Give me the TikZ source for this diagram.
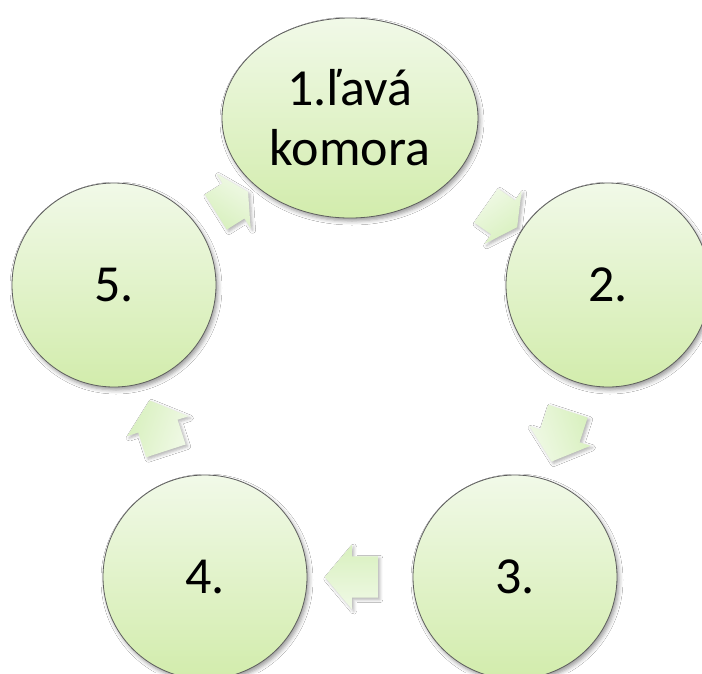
\documentclass[tikz,border=0pt]{standalone}
\usepackage{fontspec}
\setmainfont{Carlito}
\usetikzlibrary{calc,shapes.geometric,shapes.arrows,shadows.blur}

\definecolor{limetop}{HTML}{F1F9E8}
\definecolor{limebottom}{HTML}{D2ECAC}
\definecolor{arrowtop}{HTML}{F0F9E6}
\definecolor{arrowbottom}{HTML}{D8F0BE}
\definecolor{rimgray}{HTML}{5E5E5E}

\begin{document}
\begin{tikzpicture}[x=1pt,y=-1pt,
stage/.style={circle,draw=rimgray,line width=0.8pt,minimum size=204pt,inner sep=0pt,
  top color=limetop,bottom color=limebottom,font=\fontsize{52}{60}\selectfont,
  blur shadow={shadow xshift=2pt,shadow yshift=-3pt,shadow blur radius=4pt,shadow opacity=40}},
chamber/.style={stage,ellipse,minimum width=256pt,minimum height=200pt,align=center},
cyclearrow/.style={single arrow,inner xsep=0pt,inner ysep=20.5pt,single arrow head extend=11.5pt,
  rotate=#1,top color=arrowtop,bottom color=arrowbottom,shading angle=-#1,
  blur shadow={shadow xshift=2pt,shadow yshift=-2pt,shadow blur radius=3pt,shadow opacity=30}},
longarrow/.style={cyclearrow=#1,minimum height=53pt,single arrow tip angle=100},
shortarrow/.style={cyclearrow=#1,minimum height=38pt,single arrow tip angle=124}]
\fill[white] (0,0) rectangle (702,673);
\useasboundingbox (0,0) rectangle (702,673);
\clip (0,0) rectangle (702,673);
% stages of the cycle
\node[chamber] (komora) at (350,118) {1.ľavá\\komora};
\node[stage] (step2) at (608,285) {2.};
\node[stage] (step3) at (515,577) {3.};
\node[stage] (step4) at (205,577) {4.};
\node[stage] (step5) at (114,285) {5.};
% block arrows between them
\node[shortarrow=-35] (a12) at ($(komora)!0.57!(step2)$) {};
\node[longarrow=-108] (a23) at ($(step2)!0.49!(step3)$) {};
\node[longarrow=180] (a34) at ($(step3)!0.5!(step4)$) {};
\node[longarrow=108] (a45) at ($(step4)!0.49!(step5)$) {};
\node[shortarrow=32] (a51) at ($(step5)!0.48!(komora)$) {};
\end{tikzpicture}
\end{document}
